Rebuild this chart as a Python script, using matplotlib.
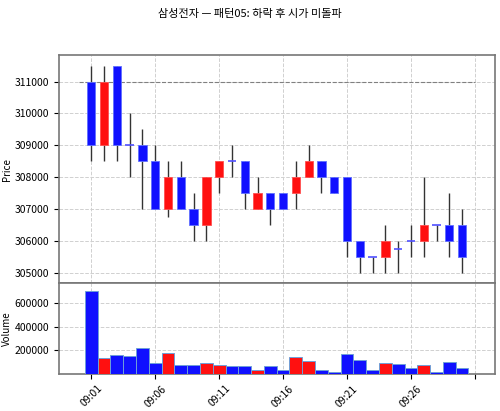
import matplotlib
matplotlib.use("Agg")
import numpy as np
import matplotlib.pyplot as plt

plt.rcParams['font.family'] = ['Noto Sans CJK KR', 'DejaVu Sans']

# OHLC data (1-minute candles from 09:01)
times = ['09:%02d' % m for m in range(1, 31)]
opens = [311000, 309000, 311500, 309000, 309000, 308500, 307000, 308000, 307000, 306500,
         308000, 308500, 308500, 307000, 307500, 307500, 307500, 308000, 308500, 308000,
         308000, 306000, 305500, 305500, 305750, 306000, 306000, 306500, 306500, 306500]
highs = [311500, 311500, 311500, 310000, 309500, 309000, 308500, 308500, 307500, 308000,
         308500, 309000, 308500, 308000, 307500, 307500, 308500, 309000, 308500, 308000,
         308000, 306000, 305500, 306500, 306000, 306500, 308000, 306500, 307500, 307000]
lows = [308500, 308500, 308500, 308000, 307000, 307000, 306750, 307000, 306000, 306000,
        307500, 308000, 307000, 307000, 306500, 307000, 307000, 308000, 307500, 307500,
        305500, 305000, 305000, 305000, 305000, 305500, 305500, 306000, 305500, 305000]
closes = [309000, 311000, 309000, 309000, 308500, 307000, 308000, 307000, 306500, 308000,
          308500, 308500, 307500, 307500, 307000, 307000, 308000, 308500, 308000, 307500,
          306000, 305500, 305500, 306000, 305750, 306000, 306500, 306500, 306000, 305500]
volumes = [700000, 135000, 156000, 148000, 218000, 88000, 179000, 71000, 77000, 88000,
           71000, 62000, 62000, 31000, 62000, 28000, 139000, 105000, 28000, 11000,
           165000, 113000, 28000, 88000, 79000, 51000, 74000, 17000, 102000, 51000]
ref_price = 311000

x = np.arange(len(times))
opens = np.array(opens)
closes = np.array(closes)
up = closes > opens
colors = np.where(up, '#ff1010', '#1010ff')

fig = plt.figure(figsize=(5, 4.11), dpi=100)
ax1 = fig.add_axes([0.1174, 0.3114, 0.872, 0.5541])
ax2 = fig.add_axes([0.1174, 0.0908, 0.872, 0.2206], sharex=ax1)

# wicks
ax1.vlines(x, lows, highs, color='#333333', linewidth=1, zorder=2)
# bodies
body_bottom = np.minimum(opens, closes)
body_height = np.abs(closes - opens)
for xi, b, h, c in zip(x, body_bottom, body_height, colors):
    if h == 0:
        ax1.hlines(b, xi - 0.33, xi + 0.33, color='#5050ff', linewidth=1.2, zorder=3)
    else:
        ax1.bar(xi, h, bottom=b, width=0.65, color=c, edgecolor='#6070ff' if c == '#1010ff' else '#ff5050',
                linewidth=0.6, zorder=3)

ax1.hlines(ref_price, -1, len(times), color='gray', linestyle='--', linewidth=0.8, zorder=1)
ax1.set_ylim(304675, 311825)
ax1.set_ylabel('Price', fontsize=7, labelpad=2)
ax1.grid(True, linestyle='--', color='#d0d0d0', linewidth=0.7)
ax1.set_axisbelow(True)
ax1.tick_params(labelsize=7.5, labelbottom=False)

# volume
ax2.bar(x, volumes, width=1.0, color=colors, edgecolor='#6f9fd8', linewidth=0.7, zorder=3)
ax2.set_ylim(0, max(volumes) * 1.1)
ax2.set_yticks([200000, 400000, 600000])
ax2.set_ylabel('Volume', fontsize=7, labelpad=2)
ax2.grid(True, linestyle='--', color='#d0d0d0', linewidth=0.7)
ax2.set_axisbelow(True)
ax2.tick_params(labelsize=7.5)

ticks = list(range(0, len(times) + 1, 5))
ax2.set_xticks(ticks)
ax2.set_xticklabels([times[t] if t < len(times) else '' for t in ticks], rotation=45)
ax2.set_xlim(-2.55, 31.55)

for ax in (ax1, ax2):
    for s in ax.spines.values():
        s.set_color('#777777')
        s.set_linewidth(1.2)

fig.suptitle('삼성전자 — 패턴05: 하락 후 시가 미돌파', fontsize=8, y=0.978)

fig.savefig('out.png', dpi=100)
